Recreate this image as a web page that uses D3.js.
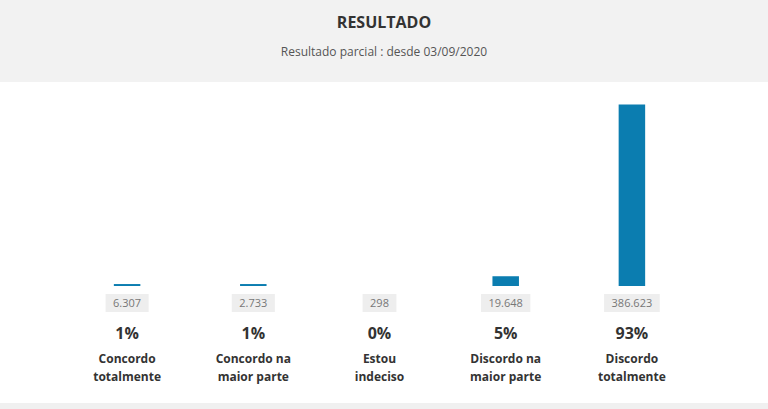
<!DOCTYPE html>
<html><head><meta charset="utf-8">
<script src="https://cdn.jsdelivr.net/npm/d3@7/dist/d3.min.js"></script>
<style>
html,body{margin:0;padding:0;background:#fff;}
svg{display:block;font-family:"Open Sans",sans-serif;}
</style></head>
<body>
<svg id="c" width="768" height="409"></svg>
<script>
const categories = [["Concordo","totalmente"],["Concordo na","maior parte"],["Estou","indeciso"],["Discordo na","maior parte"],["Discordo","totalmente"]];
const votes = [6307, 2733, 298, 19648, 386623];
const voteLabels = ["6.307","2.733","298","19.648","386.623"];
const percentValues = [1, 1, 0, 5, 93];
const title = "RESULTADO";
const subtitle = "Resultado parcial : desde 03/09/2020";

const svg = d3.select("#c");
const W = 768, H = 409;
svg.append("rect").attr("x",0).attr("y",0).attr("width",W).attr("height",82).attr("fill","#f2f2f2");
svg.append("rect").attr("x",0).attr("y",403).attr("width",W).attr("height",6).attr("fill","#f0f0f0");
svg.append("text").attr("x",384).attr("y",27.5).attr("text-anchor","middle")
  .attr("font-size",16).attr("font-weight","bold").attr("fill","#333").text(title);
svg.append("text").attr("x",384).attr("y",56).attr("text-anchor","middle")
  .attr("font-size",12).attr("fill","#555").text(subtitle);

const x = d3.scaleBand().domain(d3.range(categories.length)).range([64,695]).paddingInner(0.79).paddingOuter(0.395);
const y = d3.scaleLinear().domain([0, d3.max(percentValues)]).range([286, 104.5]);

const g = svg.append("g");
g.selectAll("rect.bar").data(percentValues).join("rect").attr("class","bar")
  .attr("x",(d,i)=>x(i)).attr("width",x.bandwidth())
  .attr("y",d=>y(d)).attr("height",d=>y(0)-y(d)).attr("fill","#0b7db0");

const cx = i => x(i)+x.bandwidth()/2;
voteLabels.forEach((t,i)=>{
  const txt = g.append("text").attr("x",cx(i)).attr("y",306.5).attr("text-anchor","middle")
    .attr("font-size",11).attr("fill","#777").text(t);
  const w = txt.node().getComputedTextLength();
  g.insert("rect","text").attr("x",cx(i)-w/2-7.5).attr("y",294).attr("width",w+15).attr("height",18).attr("fill","#eeeeee");
});
g.selectAll("text.pct").data(percentValues).join("text").attr("class","pct")
  .attr("x",(d,i)=>cx(i)).attr("y",338.5).attr("text-anchor","middle")
  .attr("font-size",16).attr("font-weight","bold").attr("fill","#333").text(d=>d+"%");
categories.forEach((lines,i)=>{
  lines.forEach((l,j)=>{
    g.append("text").attr("x",cx(i)).attr("y",363+j*18).attr("text-anchor","middle")
      .attr("font-size",12).attr("font-weight","bold").attr("fill","#333").text(l);
  });
});
</script>
</body></html>
